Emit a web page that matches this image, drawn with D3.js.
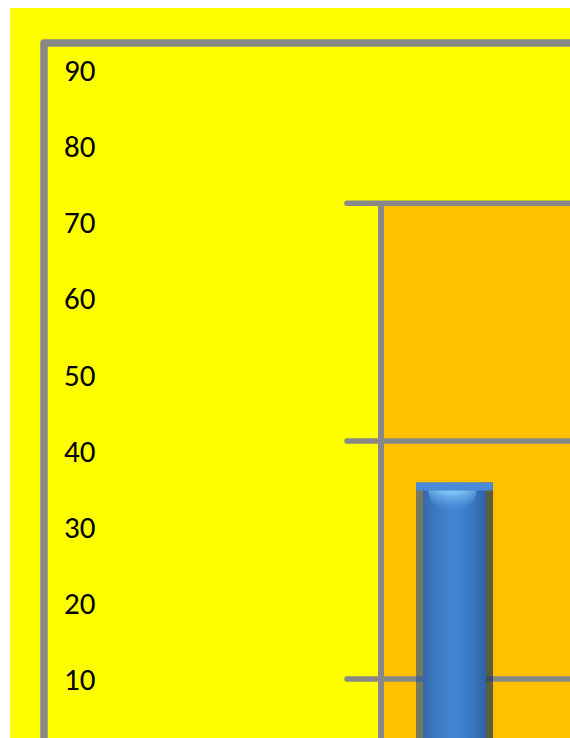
<!DOCTYPE html>
<html>
<head>
<meta charset="utf-8">
<script src="https://cdn.jsdelivr.net/npm/d3@7"></script>
<style>
  html, body { margin: 0; padding: 0; background: #fff; overflow: hidden; }
</style>
</head>
<body>
<div id="chart"></div>
<script>
// values
const categories = ['Temperature'];
const values = [35.8];
const tickValues = [10, 20, 30, 40, 50, 60, 70, 80, 90];
const markerValues = [10, 41.25, 72.5];   // grey guide lines
const bandTop = [72.5];                   // top of the orange band

const width = 570, height = 738;

const y = d3.scaleLinear().domain([0, 90]).range([755, 70]);
const x = d3.scaleBand().domain(categories).range([381, 528])
  .paddingInner(0).paddingOuter(0.4545);

const svg = d3.select('#chart').append('svg')
  .attr('width', width)
  .attr('height', height)
  .style('display', 'block');

const defs = svg.append('defs');

// cylinder body shading
const body = defs.append('linearGradient').attr('id', 'body');
[['0%', '#3569ab'], ['15%', '#3b76be'], ['45%', '#4283d5'], ['60%', '#4182d2'],
 ['85%', '#3870b8'], ['100%', '#3062a0']].forEach(s => {
  body.append('stop').attr('offset', s[0]).attr('stop-color', s[1]);
});

const cap = defs.append('radialGradient').attr('id', 'cap')
  .attr('cx', '50%').attr('cy', '0%').attr('r', '100%');
cap.append('stop').attr('offset', '0%').attr('stop-color', '#8ad2fc');
cap.append('stop').attr('offset', '55%').attr('stop-color', '#7cc4f4');
cap.append('stop').attr('offset', '100%').attr('stop-color', '#5a9ae0').attr('stop-opacity', 0);

const shadow = defs.append('filter').attr('id', 'shadow')
  .attr('x', '-50%').attr('y', '-10%').attr('width', '200%').attr('height', '130%');
shadow.append('feDropShadow')
  .attr('dx', 4).attr('dy', 2).attr('stdDeviation', 6)
  .attr('flood-color', '#000').attr('flood-opacity', 0.28);

// yellow chart area
svg.append('rect')
  .attr('x', 10).attr('y', 8)
  .attr('width', width - 10).attr('height', height - 8)
  .attr('fill', '#ffff00');

// orange band
svg.selectAll('rect.band')
  .data(bandTop)
  .join('rect')
  .attr('class', 'band')
  .attr('x', x.range()[0])
  .attr('y', d => y(d))
  .attr('width', width - x.range()[0])
  .attr('height', d => height - y(d))
  .attr('fill', '#ffc000');

// guide lines
svg.selectAll('line.marker')
  .data(markerValues)
  .join('line')
  .attr('class', 'marker')
  .attr('x1', 347).attr('x2', width + 10)
  .attr('y1', d => y(d)).attr('y2', d => y(d))
  .attr('stroke', '#888888')
  .attr('stroke-width', 5.5)
  .attr('stroke-linecap', 'round');

svg.append('line')
  .attr('x1', x.range()[0]).attr('x2', x.range()[0])
  .attr('y1', y(bandTop[0])).attr('y2', height + 10)
  .attr('stroke', '#888888')
  .attr('stroke-width', 6);

// frame
svg.append('path')
  .attr('d', `M44,${height + 10}V43H${width + 10}`)
  .attr('fill', 'none')
  .attr('stroke', '#888888')
  .attr('stroke-width', 7.5)
  .attr('stroke-linejoin', 'round');

// tick labels
svg.selectAll('text.tick')
  .data(tickValues)
  .join('text')
  .attr('class', 'tick')
  .attr('x', 64)
  .attr('y', d => y(d))
  .attr('dy', '0.36em')
  .attr('font-family', 'Calibri, Carlito, Lato, sans-serif')
  .attr('font-size', 31)
  .attr('fill', '#000')
  .text(d => d);

// the bar
const bar = svg.selectAll('g.bar')
  .data(values)
  .join('g')
  .attr('class', 'bar');

const bw = x.bandwidth();
const edge = 7;

defs.selectAll('clipPath')
  .data(values)
  .join('clipPath')
  .attr('id', (d, i) => 'inner' + i)
  .append('rect')
  .attr('x', (d, i) => x(categories[i]) + edge)
  .attr('y', d => y(d) + 8)
  .attr('width', bw - 2 * edge)
  .attr('height', d => height - y(d));

bar.append('rect')
  .attr('x', (d, i) => x(categories[i]))
  .attr('y', d => y(d))
  .attr('width', bw)
  .attr('height', d => height + 20 - y(d))
  .attr('fill', '#ffc000')
  .attr('fill-opacity', 0.01)
  .attr('filter', 'url(#shadow)');

bar.append('rect')
  .attr('x', (d, i) => x(categories[i]))
  .attr('y', d => y(d))
  .attr('width', edge)
  .attr('height', d => height + 20 - y(d))
  .attr('fill', '#1b4b96')
  .attr('fill-opacity', 0.6);

bar.append('rect')
  .attr('x', (d, i) => x(categories[i]) + bw - edge)
  .attr('y', d => y(d))
  .attr('width', edge)
  .attr('height', d => height + 20 - y(d))
  .attr('fill', '#163456')
  .attr('fill-opacity', 0.7);

bar.append('rect')
  .attr('x', (d, i) => x(categories[i]) + edge)
  .attr('y', d => y(d))
  .attr('width', bw - 2 * edge)
  .attr('height', d => height + 20 - y(d))
  .attr('fill', 'url(#body)');

bar.append('rect')
  .attr('x', (d, i) => x(categories[i]))
  .attr('y', d => y(d))
  .attr('width', bw)
  .attr('height', 8)
  .attr('fill', '#4a88d8');

bar.append('ellipse')
  .attr('clip-path', (d, i) => `url(#inner${i})`)
  .attr('cx', (d, i) => x(categories[i]) + bw / 2 - 2)
  .attr('cy', d => y(d) + 8)
  .attr('rx', 24)
  .attr('ry', 21)
  .attr('fill', 'url(#cap)');
</script>
</body>
</html>
